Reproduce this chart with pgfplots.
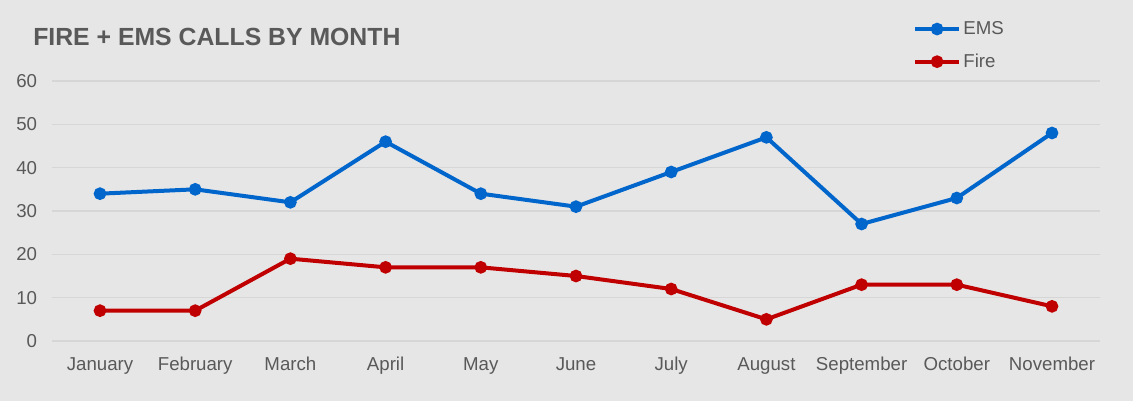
\documentclass[border=0pt]{standalone}
\usepackage{pgfplots}
\pgfplotsset{compat=1.18}
\usepackage{fontspec}
\setmainfont{Liberation Sans}
\definecolor{bg}{HTML}{E7E6E6}
\definecolor{gridc}{HTML}{D6D6D6}
\definecolor{txt}{HTML}{595959}
\definecolor{ems}{HTML}{0066CC}
\definecolor{fire}{HTML}{C00000}
\begin{document}
\begin{tikzpicture}
\fill[bg] (0,0) rectangle (849.75pt,300.75pt);
\node[anchor=base west, text=txt, font=\fontsize{18.6}{21}\selectfont\bfseries, inner sep=0pt]
  at (24.75pt,266.25pt) {FIRE + EMS CALLS BY MONTH};
\begin{axis}[
    at={(39.3pt,45pt)}, anchor=south west,
    scale only axis,
    width=785.4pt, height=195pt,
    xmin=-0.5, xmax=10.5,
    ymin=0, ymax=60,
    xtick={0,...,10},
    xticklabels={January,February,March,April,May,June,July,August,September,October,November},
    ytick={0,10,20,30,40,50,60},
    axis line style={draw=none},
    tick style={draw=none},
    ymajorgrids=true,
    major grid style={gridc, line width=0.8pt},
    ticklabel style={text=txt, font=\fontsize{14}{16}\selectfont},
    /pgf/number format/assume math mode=true,
    yticklabel style={xshift=-8pt},
    xticklabel style={yshift=-8.5pt, text height=10pt, text depth=3pt},
    legend style={at={(0.822,1.24)}, anchor=north west, draw=none, fill=none,
        font=\fontsize{14}{16}\selectfont, text=txt, row sep=9pt,
        cells={anchor=west}, inner sep=0pt},
    legend image code/.code={\draw[mark repeat=2,mark phase=2]
        plot coordinates {(0cm,0cm)(0.57cm,0cm)(1.14cm,0cm)};},
]
\addplot[ems, line width=3pt, mark=*, mark size=3.2pt] coordinates {
 (0,34)(1,35)(2,32)(3,46)(4,34)(5,31)(6,39)(7,47)(8,27)(9,33)(10,48)};
\addlegendentry{EMS}
\addplot[fire, line width=3pt, mark=*, mark size=3.2pt] coordinates {
 (0,7)(1,7)(2,19)(3,17)(4,17)(5,15)(6,12)(7,5)(8,13)(9,13)(10,8)};
\addlegendentry{Fire}
\end{axis}
\end{tikzpicture}
\end{document}
